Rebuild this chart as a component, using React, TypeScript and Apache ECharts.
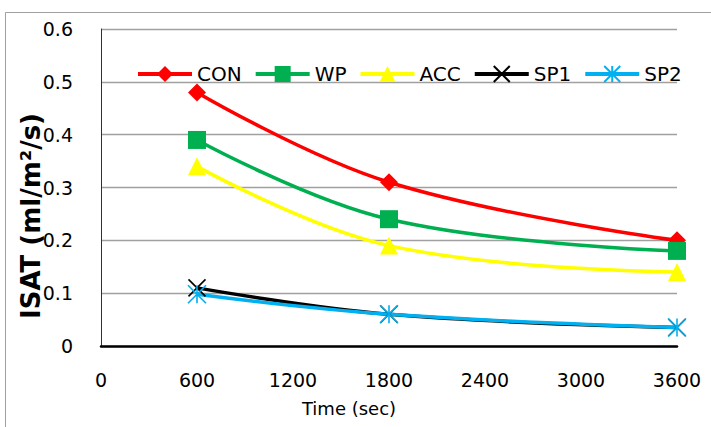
import React, { useEffect, useRef } from "react";
import * as echarts from "echarts";

const times = [600, 1800, 3600];
const conValues = [0.48, 0.31, 0.2];
const wpValues = [0.39, 0.24, 0.18];
const accValues = [0.34, 0.19, 0.14];
const sp1Values = [0.11, 0.06, 0.035];
const sp2Values = [0.098, 0.06, 0.035];
const seriesNames = ["CON", "WP", "ACC", "SP1", "SP2"];

const FONT = "DejaVu Sans";

function pairs(vals: number[]) {
  return times.map((t, i) => [t, vals[i]]);
}

export default function App() {
  const ref = useRef<HTMLDivElement>(null);
  useEffect(() => {
    if (!ref.current) return;
    const chart = echarts.init(ref.current, undefined, { renderer: "svg" });
    const mk = (
      name: string,
      vals: number[],
      color: string,
      symbol: string,
      size: number,
      stroke?: boolean
    ) => ({
      name,
      type: "line",
      data: pairs(vals),
      smooth: 0.4,
      symbol,
      symbolSize: size,
      showAllSymbol: true,
      lineStyle: { color, width: 3.5 },
      itemStyle: stroke
        ? { color, borderColor: color, borderWidth: 1.6 }
        : { color, borderWidth: 0 },
      emphasis: { disabled: true },
    });
    chart.setOption({
      animation: false,
      backgroundColor: "#ffffff",
      grid: { left: 101, top: 29, right: 34, bottom: 81, containLabel: false },
      legend: {
        left: 131,
        top: 59,
        itemWidth: 54,
        itemHeight: 20,
        itemGap: 12,
        data: seriesNames,
        lineStyle: { width: 4 },
        textStyle: { fontFamily: FONT, fontSize: 20, color: "#000" },
      },
      xAxis: {
        type: "value",
        min: 0,
        max: 3600,
        interval: 600,
        axisLine: { show: true, lineStyle: { color: "#000", width: 2.5 } },
        axisTick: { show: false },
        splitLine: { show: false },
        axisLabel: {
          margin: 24,
          fontFamily: FONT,
          fontSize: 19,
          color: "#000",
          formatter: (v: number) => String(v),
        },
      },
      yAxis: {
        type: "value",
        min: 0,
        max: 0.6,
        interval: 0.1,
        axisLine: { show: true, lineStyle: { color: "#303030", width: 1 } },
        axisTick: { show: false },
        splitLine: { show: true, lineStyle: { color: "#a0a0a0", width: 1.3 } },
        axisLabel: {
          margin: 28,
          fontFamily: FONT,
          fontSize: 19,
          color: "#000",
          formatter: (v: number) => (v === 0 ? "0" : v.toFixed(1)),
        },
      },
      graphic: [
        {
          type: "rect",
          shape: { x: 5.5, y: 12.5, width: 760, height: 460 },
          style: { fill: "none", stroke: "#a0a0a0", lineWidth: 1 },
          silent: true,
          z: -10,
        },
        {
          type: "text",
          x: 31,
          y: 216,
          rotation: Math.PI / 2,
          style: {
            text: "ISAT (ml/m²/s)",
            fontFamily: FONT,
            fontWeight: "bold",
            fontSize: 26,
            fill: "#000",
            align: "center",
            verticalAlign: "middle",
          },
        },
        {
          type: "text",
          x: 349,
          y: 408,
          style: {
            text: "Time (sec)",
            fontFamily: FONT,
            fontSize: 18,
            fill: "#000",
            align: "center",
            verticalAlign: "middle",
          },
        },
      ],
      series: [
        mk("CON", conValues, "#ff0000", "diamond", 18),
        mk("WP", wpValues, "#00b050", "rect", 18),
        mk("ACC", accValues, "#ffff00", "triangle", 18),
        mk("SP1", sp1Values, "#000000", "path://M0,0L10,10M10,0L0,10", 17, true),
        mk(
          "SP2",
          sp2Values,
          "#00b0f0",
          "path://M5,0L5,10M0,0L10,10M10,0L0,10",
          18,
          true
        ),
      ],
    });
    return () => chart.dispose();
  }, []);
  return (
    <div
      ref={ref}
      style={{ position: "absolute", left: 0, top: 0, width: 711, height: 427 }}
    />
  );
}
